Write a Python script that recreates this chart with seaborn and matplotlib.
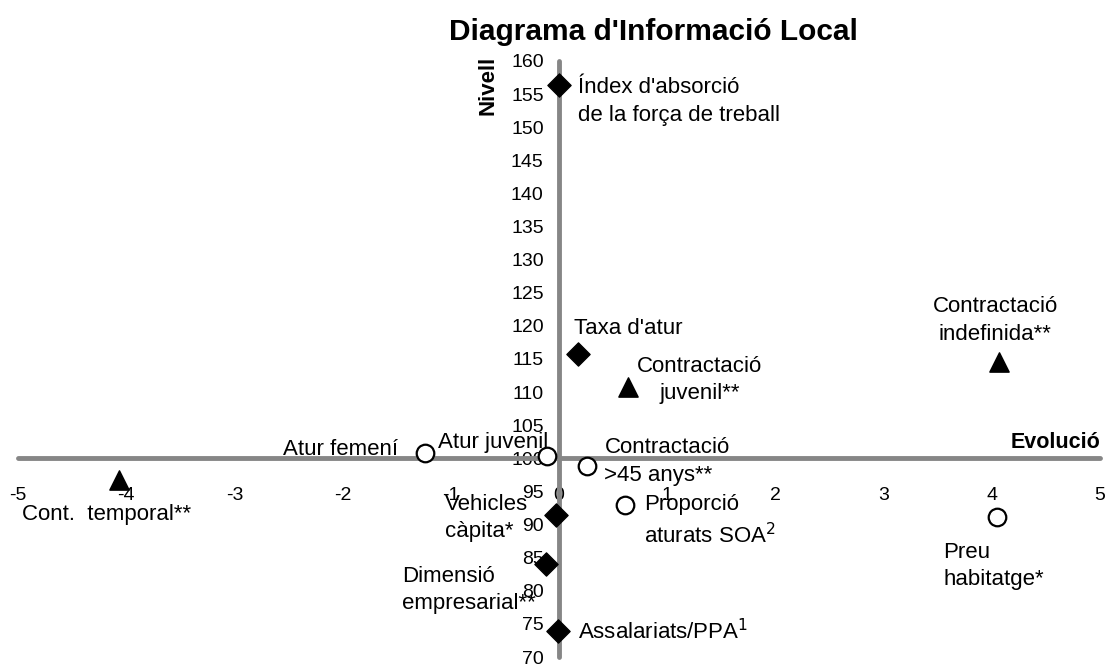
import seaborn as sns
import pandas as pd
import matplotlib
import matplotlib.pyplot as plt
matplotlib.use('Agg')

sns.set_style('white')
plt.rcParams['font.family'] = ['Liberation Sans', 'DejaVu Sans']
plt.rcParams['text.color'] = 'black'
plt.rcParams['xtick.labelcolor'] = 'black'
plt.rcParams['ytick.labelcolor'] = 'black'
plt.rcParams['axes.unicode_minus'] = False

# indicadors: evolucio (x), nivell (y), tipus de marcador
noms = ["Índex d'absorció", "Taxa d'atur", "Contractació juvenil", "Contractació indefinida",
        "Cont. temporal", "Atur femení", "Atur juvenil", "Contractació >45 anys",
        "Proporció aturats SOA", "Vehicles càpita", "Dimensió empresarial",
        "Assalariats/PPA", "Preu habitatge"]
evolucio = [0.0, 0.18, 0.64, 4.07, -4.07, -1.24, -0.11, 0.26, 0.61, -0.03, -0.12, -0.01, 4.05]
nivell = [156.3, 115.8, 110.7, 114.5, 96.8, 100.8, 100.3, 98.8, 92.9, 91.5, 84.0, 73.9, 91.1]
tipus = ['rombe', 'rombe', 'triangle', 'triangle', 'triangle', 'cercle', 'cercle', 'cercle',
         'cercle', 'rombe', 'rombe', 'rombe', 'cercle']

# etiquetes: text, x, y, alineacio
etiquetes = [
    ("Índex d'absorció\nde la força de treball", 0.18, 153.9, 'left'),
    ("Taxa d'atur", 0.14, 119.6, 'left'),
    ("Contractació\njuvenil**", 1.30, 111.8, 'center'),
    ("Contractació\nindefinida**", 4.03, 120.8, 'center'),
    ("Cont.  temporal**", -4.96, 91.5, 'left'),
    ("Atur femení", -1.49, 101.4, 'right'),
    ("Atur juvenil", -1.12, 102.4, 'left'),
    ("Contractació\n>45 anys**", 0.42, 99.5, 'left'),
    ("Vehicles\ncàpita*", -1.05, 91.0, 'left'),
    ("Proporció\naturats SOA$^2$", 0.79, 90.5, 'left'),
    ("Dimensió\nempresarial**", -1.45, 80.1, 'left'),
    ("Assalariats/PPA$^1$", 0.18, 73.8, 'left'),
    ("Preu\nhabitatge*", 3.55, 83.7, 'left'),
]

df = pd.DataFrame({'nom': noms, 'evolucio': evolucio, 'nivell': nivell, 'tipus': tipus})

fig = plt.figure(figsize=(11.09, 6.66), dpi=100)
ax = fig.add_axes([0.0162, 0.0135, 0.9757, 0.895])

sns.scatterplot(data=df[df.tipus == 'rombe'], x='evolucio', y='nivell', marker='D',
                s=140, color='black', edgecolor='black', ax=ax, zorder=3)
sns.scatterplot(data=df[df.tipus == 'triangle'], x='evolucio', y='nivell', marker='^',
                s=190, color='black', edgecolor='black', ax=ax, zorder=3)
sns.scatterplot(data=df[df.tipus == 'cercle'], x='evolucio', y='nivell', marker='o',
                s=160, color='white', edgecolor='black', linewidth=1.6, ax=ax, zorder=3)

for text, x, y, ha in etiquetes:
    ax.text(x, y, text, ha=ha, va='center', fontsize=16, linespacing=1.4, multialignment=ha)

ax.set_xlim(-5, 5)
ax.set_ylim(70, 160)
ax.set_xticks(range(-5, 6))
ax.set_yticks(range(70, 161, 5))
ax.set_xlabel('')
ax.set_ylabel('')

gris = '#868686'
ax.spines['left'].set_position(('data', 0))
ax.spines['bottom'].set_position(('data', 100))
ax.spines['top'].set_visible(False)
ax.spines['right'].set_visible(False)
for s in ['left', 'bottom']:
    ax.spines[s].set_color(gris)
    ax.spines[s].set_linewidth(3.5)
    ax.spines[s].set_capstyle('round')
ax.tick_params(axis='x', direction='out', length=5, width=3, color=gris, pad=16, labelsize=14)
ax.tick_params(axis='y', direction='out', length=5, width=3, color=gris, pad=6, labelsize=14)

ax.text(5.0, 102.4, 'Evolució', ha='right', va='center', fontsize=15.5, fontweight='bold')
ax.text(-0.66, 156.3, 'Nivell', ha='center', va='center', rotation=90, fontsize=16,
        fontweight='bold')
fig.text(0.589, 0.952, "Diagrama d'Informació Local", ha='center', va='center',
         fontsize=21.5, fontweight='bold')

fig.savefig('out.png', dpi=100)
